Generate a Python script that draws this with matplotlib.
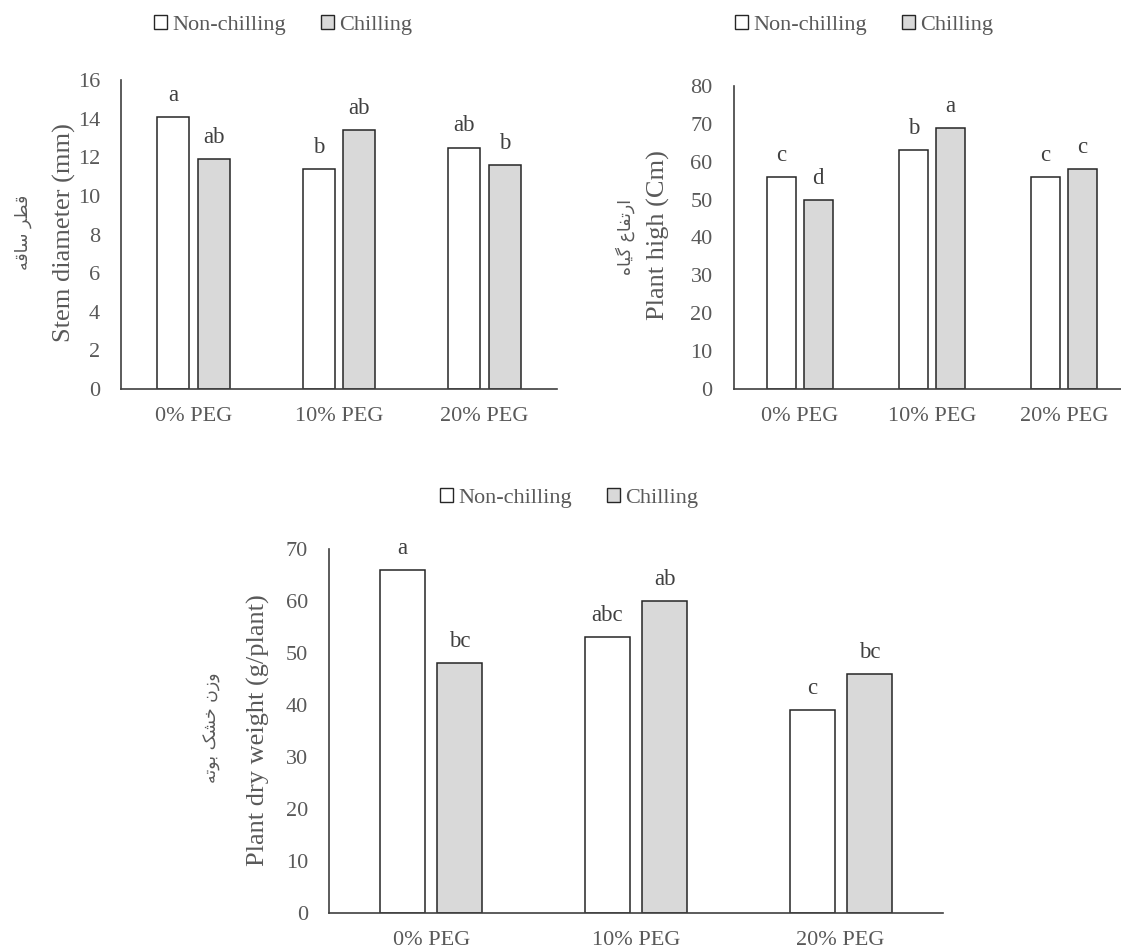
"""Stem diameter, plant height and dry weight under PEG and chilling treatments."""

import matplotlib
matplotlib.use("Agg")
import matplotlib.pyplot as plt
from matplotlib.patches import Patch
import numpy as np

# data
categories = ["0% PEG", "10% PEG", "20% PEG"]
series_names = ["Non-chilling", "Chilling"]

stem_non = [14.1, 11.4, 12.5]
stem_chill = [11.9, 13.4, 11.6]
stem_letters_non = ["a", "b", "ab"]
stem_letters_chill = ["ab", "ab", "b"]

height_non = [56, 63, 56]
height_chill = [50, 69, 58]
height_letters_non = ["c", "b", "c"]
height_letters_chill = ["d", "a", "c"]

dry_non = [66, 53, 39]
dry_chill = [48, 60, 46]
dry_letters_non = ["a", "abc", "c"]
dry_letters_chill = ["bc", "ab", "bc"]

stem_label_en = "Stem diameter (mm)"
stem_label_fa = "قطر ساقه"
height_label_en = "Plant high (Cm)"
height_label_fa = "ارتفاع گیاه"
dry_label_en = "Plant dry weight (g/plant)"
dry_label_fa = "وزن خشک بوته"

TEXT = "#595959"
EDGE = "#262626"
GREY = "#d9d9d9"

plt.rcParams["font.family"] = ["Liberation Serif", "DejaVu Sans"]

# matplotlib has no Arabic shaping, so pick presentation forms by hand
# (isolated, final, initial, medial); None = letter does not join forward
FORMS = {
    "ا": ("\ufe8d", "\ufe8e", None, None),
    "ب": ("\ufe8f", "\ufe90", "\ufe91", "\ufe92"),
    "ت": ("\ufe95", "\ufe96", "\ufe97", "\ufe98"),
    "خ": ("\ufea5", "\ufea6", "\ufea7", "\ufea8"),
    "ر": ("\ufead", "\ufeae", None, None),
    "ز": ("\ufeaf", "\ufeb0", None, None),
    "س": ("\ufeb1", "\ufeb2", "\ufeb3", "\ufeb4"),
    "ش": ("\ufeb5", "\ufeb6", "\ufeb7", "\ufeb8"),
    "ط": ("\ufec1", "\ufec2", "\ufec3", "\ufec4"),
    "ع": ("\ufec9", "\ufeca", "\ufecb", "\ufecc"),
    "ف": ("\ufed1", "\ufed2", "\ufed3", "\ufed4"),
    "ق": ("\ufed5", "\ufed6", "\ufed7", "\ufed8"),
    "ن": ("\ufee5", "\ufee6", "\ufee7", "\ufee8"),
    "ه": ("\ufee9", "\ufeea", "\ufeeb", "\ufeec"),
    "و": ("\ufeed", "\ufeee", None, None),
    "ی": ("\ufbfc", "\ufbfd", "\ufbfe", "\ufbff"),
    "ک": ("\ufb8e", "\ufb8f", "\ufb90", "\ufb91"),
    "گ": ("\ufb92", "\ufb93", "\ufb94", "\ufb95"),
}


def shape_fa(text):
    """Return a Persian string in visual (left-to-right) order with joined forms."""
    out = []
    for i, ch in enumerate(text):
        if ch not in FORMS:
            out.append(ch)
            continue
        prev = text[i - 1] if i > 0 else ""
        nxt = text[i + 1] if i + 1 < len(text) else ""
        joins_prev = prev in FORMS and FORMS[prev][2] is not None
        joins_next = nxt in FORMS and FORMS[ch][2] is not None
        iso, fin, ini, med = FORMS[ch]
        if joins_prev and joins_next:
            out.append(med)
        elif joins_prev:
            out.append(fin)
        elif joins_next:
            out.append(ini)
        else:
            out.append(iso)
    return "".join(reversed(out))


def draw_panel(ax, non, chill, letters_non, letters_chill, ymax, ystep, xmax):
    x = np.arange(len(categories))
    width = 0.22
    off = 0.14
    b1 = ax.bar(x - off, non, width, color="white", edgecolor=EDGE, linewidth=1.1)
    b2 = ax.bar(x + off, chill, width, color=GREY, edgecolor=EDGE, linewidth=1.1)
    for bars, letters in ((b1, letters_non), (b2, letters_chill)):
        for bar, lab in zip(bars, letters):
            ax.annotate(lab, (bar.get_x() + bar.get_width() / 2, bar.get_height()),
                        xytext=(0, 8), textcoords="offset points",
                        ha="center", va="bottom", fontsize=16.5, color="#404040")
    ax.set_xlim(-0.5, xmax)
    ax.set_ylim(0, ymax)
    ax.set_yticks(np.arange(0, ymax + 0.1, ystep))
    ax.set_xticks(x)
    ax.set_xticklabels(categories)
    ax.tick_params(axis="both", length=0, labelsize=16, labelcolor=TEXT)
    ax.tick_params(axis="y", pad=15)
    ax.tick_params(axis="x", pad=13)
    for side in ("top", "right"):
        ax.spines[side].set_visible(False)
    for side in ("left", "bottom"):
        ax.spines[side].set_color("#404040")
        ax.spines[side].set_linewidth(1.2)


def add_legend(fig, cx, cy):
    handles = [Patch(facecolor="white", edgecolor=EDGE, linewidth=1.0),
               Patch(facecolor=GREY, edgecolor=EDGE, linewidth=1.0)]
    fig.legend(handles, series_names, loc="center", bbox_to_anchor=(cx, cy),
               ncol=2, frameon=False, fontsize=16, labelcolor=TEXT,
               handlelength=0.6, handleheight=0.6, handletextpad=0.2,
               columnspacing=1.6)


W, H = 1121, 952
fig = plt.figure(figsize=(W / 100, H / 100), dpi=100)


def px_axes(left, top, right, bottom):
    return fig.add_axes([left / W, 1 - bottom / H, (right - left) / W, (bottom - top) / H])


ax1 = px_axes(121, 80, 557, 389)
draw_panel(ax1, stem_non, stem_chill, stem_letters_non, stem_letters_chill, 16, 2, 2.5)
# right panel is cut off at the image edge in the original
ax2 = px_axes(733.5, 86, 1121, 389)
draw_panel(ax2, height_non, height_chill, height_letters_non, height_letters_chill, 80, 10, 2.43)
ax3 = px_axes(329, 549, 943, 913)
draw_panel(ax3, dry_non, dry_chill, dry_letters_non, dry_letters_chill, 70, 10, 2.5)

add_legend(fig, 283 / W, 1 - 25 / H)
add_legend(fig, 864 / W, 1 - 25 / H)
add_legend(fig, 569 / W, 1 - 498 / H)

# y axis titles: English plus Persian
for x_en, x_fa, yc_en, yc_fa, en, fa in (
    (64, 23, 233, 232, stem_label_en, stem_label_fa),
    (658, 625, 235, 237, height_label_en, height_label_fa),
    (258, 212, 730, 728, dry_label_en, dry_label_fa),
):
    fig.text(x_en / W, 1 - yc_en / H, en, rotation=90, ha="center", va="center",
             fontsize=19, color=TEXT)
    fig.text(x_fa / W, 1 - yc_fa / H, shape_fa(fa), rotation=90, ha="center", va="center",
             fontsize=12.5, color=TEXT, family=["DejaVu Sans"])

fig.savefig("out.png", dpi=100)
